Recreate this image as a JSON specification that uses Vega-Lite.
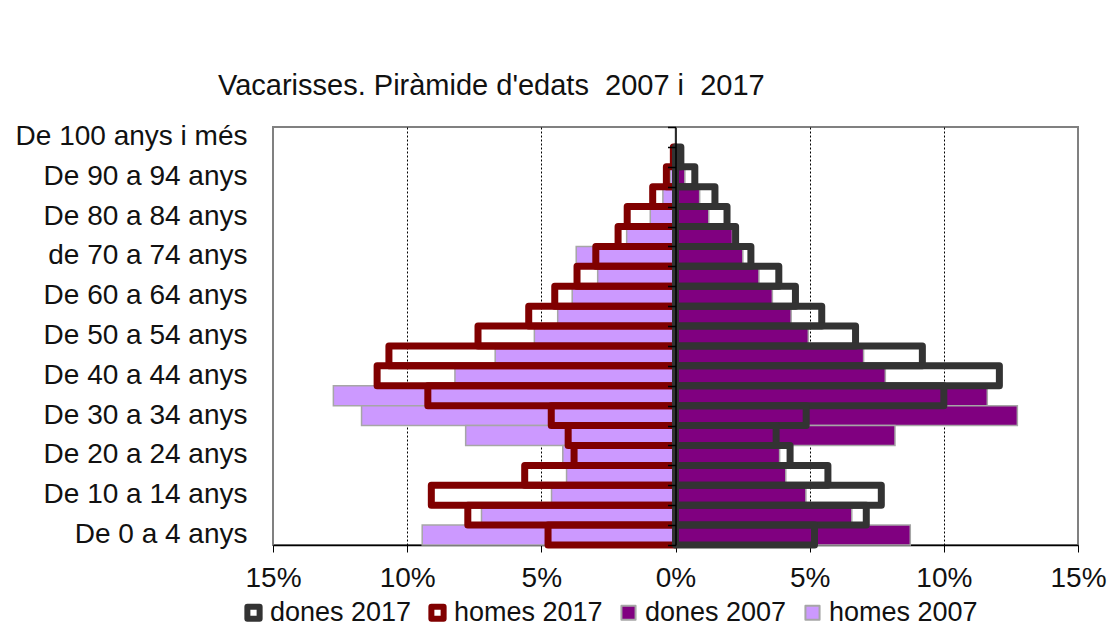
{
  "$schema": "https://vega.github.io/schema/vega-lite/v6.json",
  "width": 805,
  "height": 418,
  "autosize": "none",
  "padding": {"left": 273, "top": 127, "right": 36, "bottom": 92},
  "background": "white",
  "config": {
    "view": {"stroke": "#808080", "strokeWidth": 2},
    "font": "Liberation Sans"
  },
  "title": {
    "text": "Vacarisses. Piràmide d'edats\u00a0 2007 i\u00a0 2017",
    "anchor": "start",
    "frame": "group",
    "dx": -55,
    "offset": -2,
    "baseline": "alphabetic",
    "fontSize": 29,
    "fontWeight": "normal",
    "font": "Liberation Sans",
    "color": "#111111"
  },
  "data": {
    "values": [
      {"grup": "De 100 anys i més", "serie": "homes 2007", "any": 2007, "pct": 0},
      {"grup": "De 95 a 99 anys", "serie": "homes 2007", "any": 2007, "pct": -0.05},
      {"grup": "De 90 a 94 anys", "serie": "homes 2007", "any": 2007, "pct": -0.2},
      {"grup": "De 85 a 89 anys", "serie": "homes 2007", "any": 2007, "pct": -0.47},
      {"grup": "De 80 a 84 anys", "serie": "homes 2007", "any": 2007, "pct": -0.94},
      {"grup": "De 75 a 79 anys", "serie": "homes 2007", "any": 2007, "pct": -1.82},
      {"grup": "de 70 a 74 anys", "serie": "homes 2007", "any": 2007, "pct": -3.7},
      {"grup": "De 65 a 69 anys", "serie": "homes 2007", "any": 2007, "pct": -2.9},
      {"grup": "De 60 a 64 anys", "serie": "homes 2007", "any": 2007, "pct": -3.85},
      {"grup": "De 55 a 59 anys", "serie": "homes 2007", "any": 2007, "pct": -4.39},
      {"grup": "De 50 a 54 anys", "serie": "homes 2007", "any": 2007, "pct": -5.26},
      {"grup": "De 45 a 49 anys", "serie": "homes 2007", "any": 2007, "pct": -6.72},
      {"grup": "De 40 a 44 anys", "serie": "homes 2007", "any": 2007, "pct": -8.22},
      {"grup": "De 35 a 39 anys", "serie": "homes 2007", "any": 2007, "pct": -12.75},
      {"grup": "De 30 a 34 anys", "serie": "homes 2007", "any": 2007, "pct": -11.7},
      {"grup": "De 25 a 29 anys", "serie": "homes 2007", "any": 2007, "pct": -7.82},
      {"grup": "De 20 a 24 anys", "serie": "homes 2007", "any": 2007, "pct": -4.2},
      {"grup": "De 15 a 19 anys", "serie": "homes 2007", "any": 2007, "pct": -4.06},
      {"grup": "De 10 a 14 anys", "serie": "homes 2007", "any": 2007, "pct": -4.62},
      {"grup": "De 5 a 9 anys", "serie": "homes 2007", "any": 2007, "pct": -7.23},
      {"grup": "De 0 a 4 anys", "serie": "homes 2007", "any": 2007, "pct": -9.44},

      {"grup": "De 100 anys i més", "serie": "dones 2007", "any": 2007, "pct": 0},
      {"grup": "De 95 a 99 anys", "serie": "dones 2007", "any": 2007, "pct": 0.1},
      {"grup": "De 90 a 94 anys", "serie": "dones 2007", "any": 2007, "pct": 0.35},
      {"grup": "De 85 a 89 anys", "serie": "dones 2007", "any": 2007, "pct": 0.9},
      {"grup": "De 80 a 84 anys", "serie": "dones 2007", "any": 2007, "pct": 1.24},
      {"grup": "De 75 a 79 anys", "serie": "dones 2007", "any": 2007, "pct": 2.12},
      {"grup": "de 70 a 74 anys", "serie": "dones 2007", "any": 2007, "pct": 2.51},
      {"grup": "De 65 a 69 anys", "serie": "dones 2007", "any": 2007, "pct": 3.11},
      {"grup": "De 60 a 64 anys", "serie": "dones 2007", "any": 2007, "pct": 3.61},
      {"grup": "De 55 a 59 anys", "serie": "dones 2007", "any": 2007, "pct": 4.31},
      {"grup": "De 50 a 54 anys", "serie": "dones 2007", "any": 2007, "pct": 4.95},
      {"grup": "De 45 a 49 anys", "serie": "dones 2007", "any": 2007, "pct": 7.01},
      {"grup": "De 40 a 44 anys", "serie": "dones 2007", "any": 2007, "pct": 7.82},
      {"grup": "De 35 a 39 anys", "serie": "dones 2007", "any": 2007, "pct": 11.62},
      {"grup": "De 30 a 34 anys", "serie": "dones 2007", "any": 2007, "pct": 12.74},
      {"grup": "De 25 a 29 anys", "serie": "dones 2007", "any": 2007, "pct": 8.18},
      {"grup": "De 20 a 24 anys", "serie": "dones 2007", "any": 2007, "pct": 3.88},
      {"grup": "De 15 a 19 anys", "serie": "dones 2007", "any": 2007, "pct": 4.11},
      {"grup": "De 10 a 14 anys", "serie": "dones 2007", "any": 2007, "pct": 4.86},
      {"grup": "De 5 a 9 anys", "serie": "dones 2007", "any": 2007, "pct": 6.57},
      {"grup": "De 0 a 4 anys", "serie": "dones 2007", "any": 2007, "pct": 8.75},

      {"grup": "De 100 anys i més", "serie": "homes 2017", "any": 2017, "pct": 0},
      {"grup": "De 95 a 99 anys", "serie": "homes 2017", "any": 2017, "pct": -0.08},
      {"grup": "De 90 a 94 anys", "serie": "homes 2017", "any": 2017, "pct": -0.34},
      {"grup": "De 85 a 89 anys", "serie": "homes 2017", "any": 2017, "pct": -0.85},
      {"grup": "De 80 a 84 anys", "serie": "homes 2017", "any": 2017, "pct": -1.8},
      {"grup": "De 75 a 79 anys", "serie": "homes 2017", "any": 2017, "pct": -2.14},
      {"grup": "de 70 a 74 anys", "serie": "homes 2017", "any": 2017, "pct": -2.97},
      {"grup": "De 65 a 69 anys", "serie": "homes 2017", "any": 2017, "pct": -3.67},
      {"grup": "De 60 a 64 anys", "serie": "homes 2017", "any": 2017, "pct": -4.5},
      {"grup": "De 55 a 59 anys", "serie": "homes 2017", "any": 2017, "pct": -5.47},
      {"grup": "De 50 a 54 anys", "serie": "homes 2017", "any": 2017, "pct": -7.36},
      {"grup": "De 45 a 49 anys", "serie": "homes 2017", "any": 2017, "pct": -10.68},
      {"grup": "De 40 a 44 anys", "serie": "homes 2017", "any": 2017, "pct": -11.12},
      {"grup": "De 35 a 39 anys", "serie": "homes 2017", "any": 2017, "pct": -9.23},
      {"grup": "De 30 a 34 anys", "serie": "homes 2017", "any": 2017, "pct": -4.63},
      {"grup": "De 25 a 29 anys", "serie": "homes 2017", "any": 2017, "pct": -4.0},
      {"grup": "De 20 a 24 anys", "serie": "homes 2017", "any": 2017, "pct": -3.78},
      {"grup": "De 15 a 19 anys", "serie": "homes 2017", "any": 2017, "pct": -5.62},
      {"grup": "De 10 a 14 anys", "serie": "homes 2017", "any": 2017, "pct": -9.1},
      {"grup": "De 5 a 9 anys", "serie": "homes 2017", "any": 2017, "pct": -7.74},
      {"grup": "De 0 a 4 anys", "serie": "homes 2017", "any": 2017, "pct": -4.75},

      {"grup": "De 100 anys i més", "serie": "dones 2017", "any": 2017, "pct": 0},
      {"grup": "De 95 a 99 anys", "serie": "dones 2017", "any": 2017, "pct": 0.2},
      {"grup": "De 90 a 94 anys", "serie": "dones 2017", "any": 2017, "pct": 0.72},
      {"grup": "De 85 a 89 anys", "serie": "dones 2017", "any": 2017, "pct": 1.47},
      {"grup": "De 80 a 84 anys", "serie": "dones 2017", "any": 2017, "pct": 1.92},
      {"grup": "De 75 a 79 anys", "serie": "dones 2017", "any": 2017, "pct": 2.24},
      {"grup": "de 70 a 74 anys", "serie": "dones 2017", "any": 2017, "pct": 2.81},
      {"grup": "De 65 a 69 anys", "serie": "dones 2017", "any": 2017, "pct": 3.85},
      {"grup": "De 60 a 64 anys", "serie": "dones 2017", "any": 2017, "pct": 4.47},
      {"grup": "De 55 a 59 anys", "serie": "dones 2017", "any": 2017, "pct": 5.45},
      {"grup": "De 50 a 54 anys", "serie": "dones 2017", "any": 2017, "pct": 6.71},
      {"grup": "De 45 a 49 anys", "serie": "dones 2017", "any": 2017, "pct": 9.2},
      {"grup": "De 40 a 44 anys", "serie": "dones 2017", "any": 2017, "pct": 12.07},
      {"grup": "De 35 a 39 anys", "serie": "dones 2017", "any": 2017, "pct": 10.0},
      {"grup": "De 30 a 34 anys", "serie": "dones 2017", "any": 2017, "pct": 4.87},
      {"grup": "De 25 a 29 anys", "serie": "dones 2017", "any": 2017, "pct": 3.75},
      {"grup": "De 20 a 24 anys", "serie": "dones 2017", "any": 2017, "pct": 4.27},
      {"grup": "De 15 a 19 anys", "serie": "dones 2017", "any": 2017, "pct": 5.68},
      {"grup": "De 10 a 14 anys", "serie": "dones 2017", "any": 2017, "pct": 7.67},
      {"grup": "De 5 a 9 anys", "serie": "dones 2017", "any": 2017, "pct": 7.11},
      {"grup": "De 0 a 4 anys", "serie": "dones 2017", "any": 2017, "pct": 5.18}
    ]
  },
  "encoding": {
    "x": {
      "field": "pct",
      "type": "quantitative",
      "stack": null,
      "scale": {"domain": [-15, 15], "nice": false, "zero": false},
      "axis": {
        "title": null,
        "values": [-15, -10, -5, 0, 5, 10, 15],
        "labelExpr": "abs(datum.value) + '%'",
        "labelFont": "Liberation Sans",
        "labelFontSize": 28,
        "labelColor": "#111111",
        "labelPadding": 12,
        "labelFlush": false,
        "labelOverlap": false,
        "domainColor": "black",
        "domainWidth": 1.5,
        "tickColor": "black",
        "tickSize": 7,
        "tickWidth": 1,
        "grid": true,
        "gridDash": [2, 2],
        "gridWidth": 1,
        "gridColor": {"condition": {"test": "abs(datum.value) == 15 || datum.value == 0", "value": "transparent"}, "value": "black"},
        "gridOpacity": 1,
        "zindex": 0
      }
    },
    "fill": {
      "field": "serie",
      "type": "nominal",
      "scale": {
        "domain": ["dones 2017", "homes 2017", "dones 2007", "homes 2007"],
        "range": ["transparent", "transparent", "#800080", "#cc99ff"]
      },
      "legend": {
        "title": null,
        "orient": "none",
        "legendX": -33,
        "legendY": 472,
        "direction": "horizontal",
        "columns": 4,
        "labelFont": "Liberation Sans",
        "labelFontSize": 27,
        "labelColor": "#111111",
        "labelOffset": 3,
        "columnPadding": 12,
        "symbolType": "square",
        "symbolSize": 200,
        "symbolOpacity": 1,
        "encode": {
          "symbols": {
            "update": {
              "strokeWidth": {"signal": "indexof(['dones 2017','homes 2017'], datum.value) >= 0 ? 6 : 2"},
              "size": {"signal": "indexof(['dones 2017','homes 2017'], datum.value) >= 0 ? 150 : 200"},
              "fill": {"signal": "datum.value == 'dones 2007' ? '#800080' : datum.value == 'homes 2007' ? '#cc99ff' : 'white'"},
              "strokeJoin": {"value": "round"}
            }
          }
        }
      }
    },
    "stroke": {
      "field": "serie",
      "type": "nominal",
      "scale": {
        "domain": ["dones 2017", "homes 2017", "dones 2007", "homes 2007"],
        "range": ["#333333", "#800000", "#a6a6a6", "#a6a6a6"]
      },
      "legend": {
        "title": null,
        "orient": "none",
        "legendX": -33,
        "legendY": 472,
        "direction": "horizontal",
        "columns": 4,
        "labelFont": "Liberation Sans",
        "labelFontSize": 27,
        "labelColor": "#111111",
        "labelOffset": 3,
        "columnPadding": 12,
        "symbolType": "square",
        "symbolSize": 200,
        "encode": {
          "symbols": {
            "update": {
              "strokeWidth": {"signal": "indexof(['dones 2017','homes 2017'], datum.value) >= 0 ? 6 : 2"},
              "size": {"signal": "indexof(['dones 2017','homes 2017'], datum.value) >= 0 ? 150 : 200"},
              "fill": {"signal": "datum.value == 'dones 2007' ? '#800080' : datum.value == 'homes 2007' ? '#cc99ff' : 'white'"},
              "strokeJoin": {"value": "round"}
            }
          }
        }
      }
    }
  },
  "layer": [
    {
      "transform": [{"filter": "datum.any == 2007"}],
      "mark": {"type": "bar", "strokeWidth": 1.5, "fillOpacity": 1},
      "encoding": {
        "y": {
          "field": "grup",
          "type": "nominal",
          "scale": {
            "domain": ["De 100 anys i més", "De 95 a 99 anys", "De 90 a 94 anys", "De 85 a 89 anys", "De 80 a 84 anys", "De 75 a 79 anys", "de 70 a 74 anys", "De 65 a 69 anys", "De 60 a 64 anys", "De 55 a 59 anys", "De 50 a 54 anys", "De 45 a 49 anys", "De 40 a 44 anys", "De 35 a 39 anys", "De 30 a 34 anys", "De 25 a 29 anys", "De 20 a 24 anys", "De 15 a 19 anys", "De 10 a 14 anys", "De 5 a 9 anys", "De 0 a 4 anys"],
            "paddingInner": 0,
            "paddingOuter": 0
          },
          "axis": {
            "title": null,
            "orient": "left",
            "values": ["De 100 anys i més", "De 90 a 94 anys", "De 80 a 84 anys", "de 70 a 74 anys", "De 60 a 64 anys", "De 50 a 54 anys", "De 40 a 44 anys", "De 30 a 34 anys", "De 20 a 24 anys", "De 10 a 14 anys", "De 0 a 4 anys"],
            "domain": false,
            "ticks": false,
            "grid": false,
            "labelPadding": 26,
            "labelFont": "Liberation Sans",
            "labelFontSize": 28,
            "labelColor": "#111111",
            "labelLimit": 400,
            "labelOverlap": false
          }
        }
      }
    },
    {
      "transform": [{"filter": "datum.any == 2017 && datum.pct != 0"}],
      "mark": {"type": "bar", "strokeWidth": 7, "strokeJoin": "round"},
      "encoding": {
        "y": {
          "field": "grup",
          "type": "nominal",
          "scale": {
            "domain": ["De 100 anys i més", "De 95 a 99 anys", "De 90 a 94 anys", "De 85 a 89 anys", "De 80 a 84 anys", "De 75 a 79 anys", "de 70 a 74 anys", "De 65 a 69 anys", "De 60 a 64 anys", "De 55 a 59 anys", "De 50 a 54 anys", "De 45 a 49 anys", "De 40 a 44 anys", "De 35 a 39 anys", "De 30 a 34 anys", "De 25 a 29 anys", "De 20 a 24 anys", "De 15 a 19 anys", "De 10 a 14 anys", "De 5 a 9 anys", "De 0 a 4 anys"],
            "paddingInner": 0,
            "paddingOuter": 0
          },
          "axis": {
            "title": null,
            "orient": "left",
            "offset": -402.5,
            "labels": false,
            "grid": false,
            "domain": true,
            "domainColor": "black",
            "domainWidth": 1.5,
            "ticks": true,
            "tickBand": "extent",
            "tickSize": 8,
            "tickColor": "black",
            "tickWidth": 1.5,
            "zindex": 1
          }
        }
      }
    }
  ],
  "resolve": {"axis": {"y": "independent"}}
}
